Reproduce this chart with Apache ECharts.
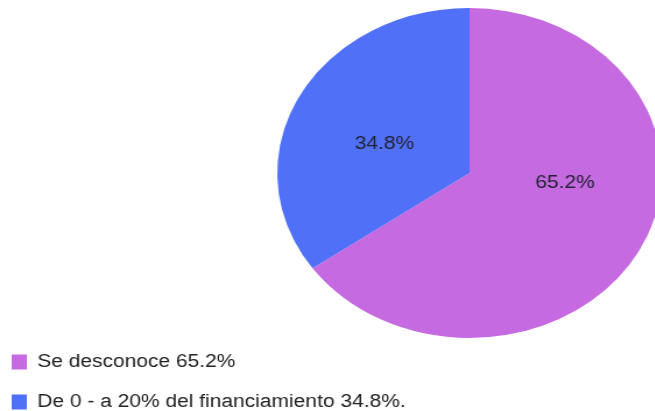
<!DOCTYPE html>
<html>
<head>
<meta charset="utf-8">
<script src="https://cdn.jsdelivr.net/npm/echarts@6/dist/echarts.min.js"></script>
<style>
  html, body { margin: 0; padding: 0; background: #ffffff; overflow: hidden; }
  #wrap { width: 655px; height: 411px; overflow: hidden; position: relative; }
  #chart { width: 562px; height: 411px; transform: scaleX(1.165); transform-origin: 0 0; }
</style>
</head>
<body>
<div id="wrap"><div id="chart"></div></div>
<script>
const categories = ['Se desconoce 65.2%', 'De 0 - a 20% del financiamiento 34.8%.'];
const values = [65.2, 34.8];
const sliceLabels = ['65.2%', '34.8%'];
const colors = ['#c56ae0', '#5170f8'];

const chart = echarts.init(document.getElementById('chart'), null, { renderer: 'canvas' });
const labelOffsets = [[6, -29], [3, 10]];
chart.setOption({
  animation: false,
  backgroundColor: '#ffffff',
  legend: {
    orient: 'vertical',
    left: 10,
    top: 353,
    height: 60,
    padding: 0,
    icon: 'rect',
    itemWidth: 13,
    itemHeight: 15,
    itemGap: 22,
    selectedMode: false,
    data: categories,
    textStyle: {
      fontFamily: 'Liberation Sans, Arial, sans-serif',
      fontSize: 18,
      color: '#222222',
      lineHeight: 18,
      padding: [0, 0, 0, 4]
    }
  },
  series: [{
    type: 'pie',
    center: [403, 173],
    radius: [0, 165],
    startAngle: 90,
    clockwise: true,
    avoidLabelOverlap: false,
    silent: true,
    label: {
      show: true,
      position: 'inside',
      fontFamily: 'Liberation Sans, Arial, sans-serif',
      fontSize: 18,
      color: '#222233'
    },
    labelLine: { show: false },
    itemStyle: { borderWidth: 0 },
    data: categories.map((c, i) => ({
      name: c,
      value: values[i],
      itemStyle: { color: colors[i] },
      label: { formatter: sliceLabels[i], offset: labelOffsets[i] }
    }))
  }]
});
</script>
</body>
</html>
